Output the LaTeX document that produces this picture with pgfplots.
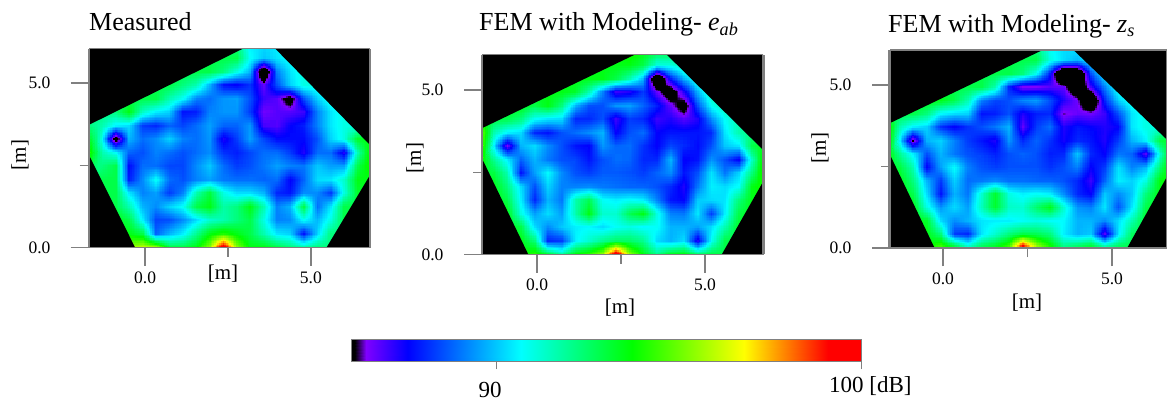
\documentclass[border=0pt]{standalone}
\usepackage{fontspec}
\setmainfont{Liberation Serif}
\usepackage{pgfplots}
\usepackage{pgfplotstable}
\usepgfplotslibrary{patchplots}
\pgfplotsset{compat=1.18}
\definecolor{axgray}{gray}{0.5}
\pgfplotsset{
 colormap={fieldmap}{rgb255(0pt)=(0,0,0) rgb255(305pt)=(0,0,0) rgb255(320pt)=(128,0,255) rgb255(378pt)=(0,0,255) rgb255(533pt)=(0,255,255) rgb255(685pt)=(0,255,0) rgb255(840pt)=(255,255,0) rgb255(955pt)=(255,0,0) rgb255(1000pt)=(255,0,0)},
 panel/.style={
  scale only axis, anchor=south west, view={0}{90}, width=281pt, height=199pt,
  axis on top, tick pos=left, tick align=outside, /pgf/number format/assume math mode=true,
  xtick={0,5}, ytick={0,5}, minor xtick={2.5}, minor ytick={2.5},
  xticklabels={0.0,5.0}, yticklabels={0.0,5.0},
  major tick length=18pt, minor tick length=9pt,
  every tick/.style={axgray,line width=1.4pt},
  every minor tick/.style={axgray,line width=1.2pt},
  axis line style={axgray,line width=1.4pt},
  tick label style={font=\fontsize{17.5}{20}\selectfont},
  xticklabel style={yshift=-3pt},
  yticklabel style={xshift=-17pt},
  point meta min=82.1, point meta max=98.3, colormap name=fieldmap,
 },
 heat/.style={surf, shader=interp, patch type=bilinear, mesh/cols=22, mesh/rows=16, point meta=z},
 mask/.style={fill=black, draw=none, no markers, forget plot},
}
\pgfplotstableread[row sep=crcr, header=false]{
93\\93\\94\\94.5\\95\\94.5\\92.5\\92.5\\93\\94.5\\100\\94.5\\93\\93\\92.5\\92\\91.5\\92\\92\\92\\92\\92\\
93\\93\\93\\93\\92.5\\89.2\\90\\90.6\\91.8\\93\\93.5\\93\\92.5\\91.5\\90.5\\90.3\\88.4\\90.3\\92\\92\\92\\92\\
93\\93\\93\\92.5\\90.6\\88.9\\89\\89.6\\90.4\\91.2\\91.5\\92\\92.5\\91\\89.5\\89.6\\90.8\\90\\91\\92.5\\92.5\\92.5\\
92.5\\92.5\\92.5\\91.5\\90\\89.6\\90.3\\90.8\\92.5\\93\\91.6\\92\\93\\91.5\\89.5\\90\\92.5\\89.3\\90.5\\92.5\\92.5\\92.5\\
92.5\\92.5\\92.5\\90.5\\89.5\\89.8\\88.8\\89.5\\91.5\\92.6\\91\\90.4\\90.4\\90\\88.6\\88.4\\89.6\\89.6\\88.8\\91\\92.8\\92.8\\
92.5\\92.5\\92.5\\88.5\\89.6\\90.8\\89.3\\89\\89.5\\89.8\\89.4\\89.3\\89.3\\89.2\\89.3\\88.2\\89.2\\90.4\\90.5\\91.2\\93\\93\\
92\\92\\92.5\\88.3\\89.3\\89.3\\88.9\\88.9\\89.6\\90.2\\89.3\\88.8\\89\\89.4\\89.8\\89.5\\89.4\\90.2\\89.8\\89.8\\92.5\\93.5\\
93.5\\91.5\\90.8\\89.2\\89\\89.5\\89.3\\89\\89.3\\89.6\\88.7\\88.5\\88.9\\89.3\\89.3\\88.8\\88\\89.3\\89.3\\88\\91.5\\93.5\\
93.5\\90.8\\86.2\\90\\89.3\\89.6\\90.3\\89.5\\89.3\\89.7\\88\\88.8\\89.8\\88.9\\88.3\\88.3\\88.3\\89\\90.3\\91\\92.8\\93\\
92\\91.5\\90.6\\90.4\\88.8\\88.6\\89.2\\88.9\\89.3\\89.8\\89.2\\89.2\\89.7\\87.7\\87.6\\88.2\\88.5\\89.5\\90.5\\91\\91\\91\\
92\\92\\92\\93\\91.3\\90.6\\90.3\\88.4\\88.5\\89.5\\89.7\\89.7\\88.8\\87.4\\87.6\\87.6\\87.8\\89.5\\90.5\\91\\91\\91\\
92.5\\92.5\\92.5\\92.5\\92.5\\92.5\\91.5\\90.8\\89.5\\89.3\\89.7\\89.8\\89\\87.8\\87.6\\86.5\\89\\90.3\\91\\91\\91\\91\\
92.5\\92.5\\92.5\\92.5\\92.5\\92.5\\92.5\\92\\91.5\\90\\88.4\\88.2\\88.7\\87.5\\89\\90.3\\91\\91\\91\\91\\91\\91\\
92.5\\92.5\\92.5\\92.5\\92.5\\92.5\\92.5\\92.5\\92.5\\92.5\\92\\91\\90\\85.5\\89.5\\90.5\\91\\91\\91\\91\\91\\91\\
92.5\\92.5\\92.5\\92.5\\92.5\\92.5\\92.5\\92.5\\92.5\\92.5\\92.5\\92.5\\90.8\\90.2\\90.5\\90.8\\91\\91\\91\\91\\91\\91\\
92\\92\\92\\92\\92\\92\\92\\92\\92\\92\\92\\92\\90.6\\90.4\\90.6\\91\\91\\91\\91\\91\\91\\91\\
}\dataA
\pgfplotstableread[row sep=crcr, header=false]{
93\\93\\93\\93\\93.5\\92.5\\91.5\\93\\93.5\\94.5\\98.5\\94.5\\93\\91.8\\92.8\\93\\92\\92.5\\92.5\\92.5\\92.5\\92.5\\
93\\93\\93\\93\\92\\88.6\\88.8\\90.6\\91.2\\91.8\\92.2\\92.2\\91.8\\90.4\\90\\90.4\\88\\90.8\\92.5\\92.5\\92.5\\92.5\\
93\\93\\93\\92.5\\90.4\\89.6\\90.2\\90.6\\90.7\\90.4\\90.8\\91\\90.7\\90.8\\90\\90\\89.8\\90.4\\91.5\\92.8\\93\\93\\
93\\93\\93\\91\\89.8\\90.4\\89.8\\91.5\\93\\91.2\\91.2\\92.4\\93\\91\\89.5\\89.4\\90.5\\88.8\\90.6\\92.5\\93\\93\\
93\\93\\92.5\\90.6\\88.6\\90\\89.4\\91.5\\92.4\\90.8\\90.6\\90.8\\90.6\\89.5\\88.4\\88.2\\90.2\\90.4\\90.5\\92\\93\\93\\
93\\93\\92\\90.4\\89\\90.3\\89.5\\89.5\\89.6\\89.4\\89.3\\89.2\\89.2\\89\\88.6\\88\\89.4\\90.6\\90.4\\90.8\\93\\93.5\\
93\\92.6\\91.5\\88.4\\89.8\\90.7\\89.6\\89\\88.8\\89.1\\89.1\\89\\88.8\\89.2\\89.6\\88.4\\89\\90.5\\89.4\\90.3\\92\\94\\
93.5\\91.8\\90.6\\89.2\\90\\89.4\\89\\88.9\\88.4\\89\\89.3\\89.2\\88.6\\88.6\\90\\88.2\\88.4\\89.7\\89\\88.2\\91.3\\94\\
94\\90.6\\87.3\\90\\90.4\\89.6\\89\\88.4\\88.2\\89.7\\89.2\\89.3\\88.7\\88.2\\88.9\\88.6\\88.3\\89\\90.2\\90.5\\92.5\\93\\
94.5\\91.5\\90.6\\90.4\\88.6\\88.4\\89\\89.3\\89.6\\90\\88.2\\89\\89.3\\88.2\\88.4\\88.4\\88.4\\88.6\\90.5\\91.5\\92\\92\\
93\\92.5\\92.5\\92\\90.8\\90.5\\90.4\\88.6\\88.6\\89\\87.8\\88.8\\88.6\\87.8\\88\\87.6\\88\\89.6\\90.8\\91.5\\92\\92\\
93\\93\\93\\93\\92.5\\93\\92\\90\\89\\89\\89.7\\89.8\\89.2\\88.5\\87.5\\86.5\\89\\90.8\\91.5\\92\\92\\92\\
93\\93\\93\\93\\93\\93\\93\\92.8\\91.5\\89.5\\87.8\\88\\88.8\\87.5\\86.3\\88\\90\\91.5\\92\\92\\92\\92\\
93\\93\\93\\93\\93\\93\\93\\93\\93\\93\\92.5\\91.5\\90\\85\\88.5\\90\\91.2\\92\\92\\92\\92\\92\\
93\\93\\93\\93\\93\\93\\93\\93\\93\\93\\93\\93\\92.5\\91\\91\\91.5\\92\\92\\92\\92\\92\\92\\
93\\93\\93\\93\\93\\93\\93\\93\\93\\93\\93\\93.5\\93\\92.5\\92.5\\92\\92\\92\\92\\92\\92\\92\\
}\dataB
\pgfplotstableread[row sep=crcr, header=false]{
93\\93\\93\\93\\94\\93\\91.5\\92.5\\93\\94\\98.5\\95\\93.5\\92\\92.5\\93\\92\\92.5\\92.5\\92.5\\92.5\\92.5\\
93\\93\\93\\93\\92\\88.8\\88.6\\90.5\\91.2\\92\\92.5\\92.4\\92\\90.6\\90\\90.2\\87.6\\90.5\\92.3\\92.5\\92.5\\92.5\\
93\\93\\93\\92.8\\90.4\\89.6\\90\\90.5\\90.6\\90.6\\90.8\\91\\90.8\\90.7\\90\\90\\89.6\\90.4\\91.5\\92.8\\93\\93\\
93\\93\\93\\91\\89.7\\90.4\\89.8\\91.4\\92.8\\91.3\\91.2\\92.2\\93\\91.2\\89.7\\89.5\\90.5\\89\\90.5\\92.5\\93\\93\\
93\\93\\92.5\\90.4\\88.4\\90\\89.4\\91.2\\92.8\\91\\90.6\\90.8\\90.6\\89.6\\88.6\\88.2\\90.2\\89.6\\90.2\\92\\93\\93\\
93\\93\\92\\90\\88.8\\90.3\\89.3\\89.4\\89.6\\89.3\\89.3\\89.2\\89.2\\89\\88.6\\87.8\\89.2\\90.6\\90.3\\91\\93\\93.5\\
93\\92.6\\91.5\\88.2\\89.8\\90.8\\89.5\\89\\88.8\\89\\89\\89\\88.7\\89\\89.5\\88.2\\88.8\\90.5\\89.5\\90\\92\\94\\
93.5\\91.8\\90.6\\89\\90\\89.4\\89\\88.8\\88.5\\89\\89.2\\89\\88.5\\88.6\\90.2\\88.6\\88.2\\89.4\\89.2\\87.6\\91\\94\\
94\\90.6\\87\\90\\90.3\\89.5\\88.8\\88.4\\88\\89.7\\88.6\\89.2\\88.7\\88.1\\88.6\\88.4\\88\\88.8\\90\\90.6\\92.5\\93\\
94\\91.5\\90.6\\90.3\\88.7\\88.2\\88.7\\89\\89.4\\90\\87.5\\88.8\\89.3\\88\\88.4\\88.2\\88\\88.2\\90.5\\91\\91\\91\\
92.5\\92.5\\92.5\\92\\90.7\\90.4\\90.3\\88.4\\88.5\\89\\88\\88.5\\88.6\\87.2\\87.5\\87.4\\87.8\\89\\90.5\\91\\91\\91\\
93\\93\\93\\93\\93\\92.5\\91.5\\89.5\\88.9\\89\\89.6\\89.8\\89\\88\\87.4\\85.5\\88.6\\90.3\\91\\91\\91\\91\\
92.5\\92.5\\92.5\\92.5\\92.5\\92.5\\92.5\\92.5\\91.5\\88.6\\87.3\\87.3\\87.6\\87.5\\85.8\\87.8\\89.5\\91\\91\\91\\91\\91\\
92.5\\92.5\\92.5\\92.5\\92.5\\92.5\\92.5\\92.5\\92.5\\92.5\\92\\90.8\\88.5\\84.5\\85\\89\\90.7\\91\\91\\91\\91\\91\\
92.5\\92.5\\92.5\\92.5\\92.5\\92.5\\92.5\\92.5\\92.5\\92.5\\92.5\\92.5\\91\\90.4\\90\\90.6\\91\\91\\91\\91\\91\\91\\
92\\92\\92\\92\\92\\92\\92\\92\\92\\92\\92\\92\\90.8\\90.4\\90.5\\91\\91\\91\\91\\91\\91\\91\\
}\dataC
\begin{document}
\begin{tikzpicture}[x=1pt,y=1pt]
\useasboundingbox (0,0) rectangle (1167,402);
% Panel 1
\begin{axis}[panel, at={(89pt,154.5pt)}, xmin=-1.69, xmax=6.78, ymin=0, ymax=6.05]
\addplot3[heat] table[x index=0, y index=0, z index=0, x expr={-1.7+0.405*mod(\coordindex,22)}, y expr={0.41*floor(\coordindex/22)}] {\dataA};
\addplot3[mask] coordinates {(-1.69,6.05,90) (2.96,6.05,90) (-1.69,3.73,90)};
\addplot3[mask] coordinates {(6.78,6.05,90) (3.92,6.05,90) (6.78,3.12,90)};
\addplot3[mask] coordinates {(6.78,0,90) (5.47,0,90) (6.78,2.2,90)};
\addplot3[mask] coordinates {(-1.69,0,90) (-0.30,0,90) (-1.69,2.81,90)};
\end{axis}
% Panel 2
\begin{axis}[panel, at={(482pt,147.5pt)}, xmin=-1.64, xmax=6.73, ymin=0, ymax=6.08, height=200pt]
\addplot3[heat] table[x index=0, y index=0, z index=0, x expr={-1.7+0.405*mod(\coordindex,22)}, y expr={0.41*floor(\coordindex/22)}] {\dataB};
\addplot3[mask] coordinates {(-1.64,6.08,90) (2.92,6.08,90) (-1.64,3.84,90)};
\addplot3[mask] coordinates {(6.73,6.08,90) (3.86,6.08,90) (6.73,3.18,90)};
\addplot3[mask] coordinates {(6.73,0,90) (5.50,0,90) (6.73,2.21,90)};
\addplot3[mask] coordinates {(-1.64,0,90) (-0.26,0,90) (-1.64,2.92,90)};
\end{axis}
% Panel 3
\begin{axis}[panel, at={(890pt,154pt)}, xmin=-1.57, xmax=6.63, ymin=0, ymax=6.07, width=277pt, height=198pt]
\addplot3[heat] table[x index=0, y index=0, z index=0, x expr={-1.7+0.405*mod(\coordindex,22)}, y expr={0.41*floor(\coordindex/22)}] {\dataC};
\addplot3[mask] coordinates {(-1.57,6.07,90) (2.95,6.07,90) (-1.57,3.83,90)};
\addplot3[mask] coordinates {(6.63,6.07,90) (3.86,6.07,90) (6.63,3.32,90)};
\addplot3[mask] coordinates {(6.63,0,90) (5.45,0,90) (6.63,2.19,90)};
\addplot3[mask] coordinates {(-1.57,0,90) (-0.25,0,90) (-1.57,2.86,90)};
\end{axis}
% Colour bar
\begin{axis}[scale only axis, anchor=south west, at={(351pt,41pt)}, width=510pt, height=22pt, view={0}{90},
  xmin=86, xmax=100, ymin=0, ymax=1, xtick={90,100}, xticklabels={,}, ytick=\empty, tick pos=left, tick align=outside,
  major tick length=8pt, every tick/.style={axgray,line width=1pt}, axis on top,
  axis line style={axgray,line width=1pt},
  point meta min=80, point meta max=100, colormap name=fieldmap]
\addplot3[surf, shader=interp, mesh/rows=2, mesh/cols=8, point meta=z] coordinates {
(86,0,86) (86.4,0,86.4) (87.57,0,87.57) (90.66,0,90.66) (93.7,0,93.7) (96.8,0,96.8) (99.1,0,99.1) (100,0,100)
(86,1,86) (86.4,1,86.4) (87.57,1,87.57) (90.66,1,90.66) (93.7,1,93.7) (96.8,1,96.8) (99.1,1,99.1) (100,1,100)};
\end{axis}
% Frame accents
\draw[axgray,line width=3pt] (763,148) -- (763,347);
\draw[axgray,line width=3pt] (889.5,154) -- (889.5,352);
% Text
\begin{scope}[every node/.style={inner sep=0pt,font=\fontsize{26}{30}\selectfont}]
\node[anchor=base west] at (89,371) {Measured};
\node[anchor=base west] at (479,371) {FEM with Modeling- \textit{e}\textsubscript{\textit{ab}}};
\node[anchor=base west] at (888,369) {FEM with Modeling- \textit{z}\textsubscript{\textit{s}}};
\end{scope}
\begin{scope}[every node/.style={inner sep=0pt,font=\fontsize{21}{25}\selectfont}]
\node[rotate=90] at (20,247) {[m]};
\node[rotate=90] at (415,244) {[m]};
\node[rotate=90] at (820,254) {[m]};
\node at (223,128) {[m]};
\node at (620,94) {[m]};
\node at (1027,99) {[m]};
\end{scope}
\begin{scope}[every node/.style={inner sep=0pt,font=\fontsize{23}{27}\selectfont}]
\node[anchor=base] at (490,5) {90};
\node[anchor=base west] at (829,10) {100 [dB]};
\end{scope}
\end{tikzpicture}
\end{document}
